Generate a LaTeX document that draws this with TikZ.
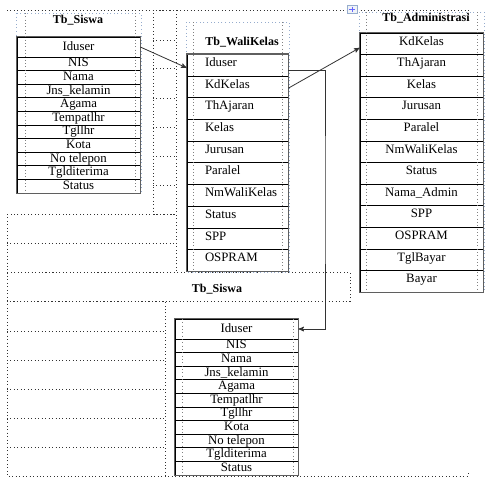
\documentclass[tikz,border=0pt]{standalone}
\usepackage{fontspec}
\setmainfont{Liberation Serif}
\usetikzlibrary{arrows}
\definecolor{griddot}{RGB}{50,50,50}
\definecolor{headdot}{RGB}{150,172,205}
\definecolor{framegray}{RGB}{95,95,95}
\tikzstyle{grid} = [draw=griddot,dotted,line width=0.6pt]
\tikzstyle{headbox} = [draw=headdot,dotted,line width=0.7pt]
\tikzstyle{frame} = [draw=framegray,line width=1.1pt]
\tikzstyle{cell} = [draw=gray,dotted,line width=0.5pt]
\tikzstyle{head} = [inner sep=0pt,font=\fontsize{9}{10}\selectfont\bfseries]
\tikzstyle{field} = [draw=black,line width=0.5pt,inner sep=0pt,font=\fontsize{9.6}{10}\selectfont]
\tikzstyle{sfield} = [field,minimum width=92.25pt,minimum height=10.2pt,text height=6.4pt,text depth=1.8pt]
\tikzstyle{wfield} = [field,minimum width=75.75pt,minimum height=16.3pt,text width=48.75pt,align=left,text height=6.4pt,text depth=4.5pt]
\tikzstyle{afield} = [field,minimum width=92.25pt,minimum height=16.2pt,text height=6.4pt,text depth=4.5pt]

\begin{document}
\begin{tikzpicture}[x=0.75pt,y=-0.75pt,post/.style={->,>=stealth',line width=0.6pt,draw=black!80}]
    \useasboundingbox (0,0) rectangle (485,480);

    % page grid of the layout table
    \draw[grid] (7,10) -- (468,10) -- (468,14);
    \draw[grid] (153,10) rectangle (176,214);
    \foreach \y in {40,68,98,127,156,185}
        \draw[grid] (153,\y) -- (176,\y);
    \draw[grid] (7,214) rectangle (176,272.5);
    \draw[grid] (7,243) -- (176,243);
    \draw[grid] (7,272.5) rectangle (350,301);
    \draw[grid] (7,301) rectangle (165,476);
    \foreach \y in {331,360,389,418,447}
        \draw[grid] (7,\y) -- (165,\y);
    \draw[grid] (165,476) -- (468,476) -- (468,472);
    \draw[headdot,fill=headdot!15,line width=0.5pt] (347,5) rectangle (357,13);
    \draw[blue!60,line width=0.5pt] (349,9) -- (355,9) (352,6.5) -- (352,11.5);

    % header boxes
    \draw[headbox] (16,13) rectangle (141,193);
    \draw[headbox] (186,22) rectangle (289,272);
    \draw[headbox] (359,12) rectangle (484,292);
    \node[head] (hs) at (78,20) {Tb\_Siswa};
    \node[head] (hw) at (242,42) {Tb\_WaliKelas};
    \node[head] (ha) at (426,18) {Tb\_Administrasi};
    \node[head] (hb) at (217,289) {Tb\_Siswa};

    % Tb_Siswa (top)
    \node[sfield,minimum height=15pt] (s0) at (78.5,47) {Iduser};
    \foreach \f [count=\i] in {NIS,Nama,Jns\_kelamin,Agama,Tempatlhr,Tgllhr,Kota,No telepon,Tglditerima,Status}
        \node[sfield] (s\i) at (78.5,{57+13.6*(\i-0.5)}) {\f};

    % Tb_WaliKelas
    \foreach \f [count=\i] in {Iduser,KdKelas,ThAjaran,Kelas,Jurusan,Paralel,NmWaliKelas,Status,SPP,OSPRAM}
        \node[wfield] (w\i) at (237.5,{54.3+21.7*(\i-0.5)}) {\f};

    % Tb_Administrasi
    \foreach \f [count=\i] in {KdKelas,ThAjaran,Kelas,Jurusan,Paralel,NmWaliKelas,Status,Nama\_Admin,SPP,OSPRAM,TglBayar,Bayar}
        \node[afield] (a\i) at (421.5,{33+21.6*(\i-0.5)}) {\f};

    % Tb_Siswa (bottom)
    \node[sfield,minimum height=15pt] (b0) at (236.5,329) {Iduser};
    \foreach \f [count=\i] in {NIS,Nama,Jns\_kelamin,Agama,Tempatlhr,Tgllhr,Kota,No telepon,Tglditerima,Status}
        \node[sfield] (b\i) at (236.5,{339+13.6*(\i-0.5)}) {\f};

    % frames and cell edges
    \draw[frame] (s0.north west) rectangle (s10.south east);
    \draw[frame] (w1.north west) rectangle (w10.south east);
    \draw[frame] (a1.north west) rectangle (a12.south east);
    \draw[frame] (b0.north west) rectangle (b10.south east);
    \draw[cell] (25,13) -- (25,193) (135,13) -- (135,193);
    \draw[cell] (193,22) -- (193,272) (282,22) -- (282,272);
    \draw[cell] (366,12) -- (366,292) (477,12) -- (477,292);
    \draw[cell] (182,319) -- (182,475) (293,319) -- (293,475);

    % relations
    \coordinate (drop) at (325,200);
    \draw[post] (s0.east) -- ([yshift=-2pt]w1.west);
    \draw[post] ([yshift=-1pt]w2.east) -- ([yshift=-3pt]a1.west);
    \draw[post] ([yshift=-3.75pt]w1.east) -| (drop) |- (b0.east);

\end{tikzpicture}
\end{document}
